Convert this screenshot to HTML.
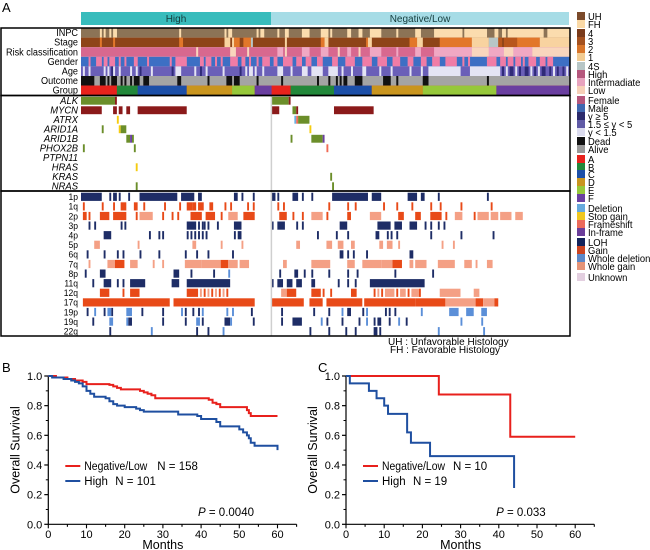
<!DOCTYPE html>
<html><head><meta charset="utf-8"><style>
html,body{margin:0;padding:0;background:#fff;}
svg{display:block;font-family:"Liberation Sans",Arial,sans-serif;}
</style></head><body>
<svg id="fig" width="650" height="550" viewBox="0 0 650 550" xmlns="http://www.w3.org/2000/svg">
<text x="2" y="12" font-size="13">A</text>
<text x="2" y="372" font-size="13">B</text>
<text x="318" y="372" font-size="13">C</text>
<rect x="81" y="12" width="190" height="13" fill="#38bcbc"/>
<text x="176" y="22" font-size="10" text-anchor="middle" fill="#143c3c">High</text>
<rect x="271" y="12" width="298" height="13" fill="#a6dce6"/>
<text x="420" y="22" font-size="10" text-anchor="middle" fill="#143c3c">Negative/Low</text>
<g id="heat"></g>
<g id="labels"></g>
<g id="legend"></g>
<text x="388" y="345" font-size="10">UH : Unfavorable Histology</text>
<text x="390" y="353" font-size="10">FH : Favorable Histology</text>
<g id="kmB"></g>
<g id="kmC"></g>
</svg>
<script>
// ---------- oncoprint data (patient index ranges: 0-100 High, 101-258 Negative/Low) ----------
const nPatients = 259;
const clinicalRows = ["INPC","Stage","Risk classification","Gender","Age","Outcome","Group"];
const clinicalDefault = ["U","4","H","M","M","A","A"];
const clinicalEvents = [
 "10F 12F 15F 17-18F 52F 76F 78-79F 93F 95-96F 104F 108-109F 117-120F 127-130F 132F 141-142F 147-148F 153-158F 167F 177-179F 187-201F 203-214F 219-220F 223-224F 226-244F 247-258F",
 "10B 17B 52-53B 81-83B 86-89B 76-78O 80O 90S 108O 127-128B 129-130O 151B 152-153O 174-177B 178-180O 190-206B 207-215O 216-220S 221-222C 224-230C 231-242B 243-258O",
 "61L 79-81L 88L 104-106I 108L 117-120I 127-130I 136L 141-142I 147L 153-158I 167I 177-179I 187-206I 207-215L 216-223I 224-228L 229-238I 239-258L",
 "4F 8-10F 12-13F 15-17F 20F 23F 28-29F 35F 47F 50-55F 63-64F 66-68F 71F 74F 79-82F 85-86F 89F 93F 96-99F 102-103F 107-111F 114-116F 119-121F 125-127F 133-135F 140-144F 149-153F 157-161F 165-168F 173-175F 180-182F 186-189F 193-198F 202F 205F 215-219F 222-224F 226-228F 230-232F 234F 237-240F 243-245F 247-249F",
 "1Y 4Y 12Y 14Y 16O 17Y 20Y 26Y 29Y 31O 37Y 48O 50-52Y 60Y 63O 66Y 75Y 84O 87Y 89-90Y 92Y 96Y 104-106Y 111Y 117-119Y 122-127Y 131-135Y 138Y 143Y 149-150Y 158Y 164Y 174Y 180Y 184-200Y 206-221Y 223O 225Y 227-228O 230Y 232O 235-236O 238Y 240O 242Y 244-245O 248O 250Y 252O 255O 257Y",
 "0-6D 10-12D 14D 16-18D 21D 23D 26D 28-30D 33-35D 51-52D 67D 77-79D 81-83D 93D 106D 125D 131D 135D 137D 139-140D 145-148D 160-163D 167D 181-183D 215D",
 "0-18A 19-29B 30-55C 56-79D 80-91E 92-100F 101-110A 111-133B 134-153C 154-180D 181-219E 220-258F"
];
const mutationRows = ["ALK","MYCN","ATRX","ARID1A","ARID1B","PHOX2B","PTPN11","HRAS","KRAS","NRAS"];
const mutationEvents = [
 "0-17g 18r 101-109g 110r",
 "0-10r 17-18r 20-21r 24-25r 30-55r 101-104r 112-113g 114r 134-154r",
 "19y 113d 114f 115-120g",
 "11g 20y 21-23g 121y",
 "24-25g 26p 27g 111g 122-127g 128p",
 "1g 28g 130f",
 "",
 "29y",
 "132g",
 "29g 133g"
];
const cnvRows = ["1p","1q","2p","3p","4p","5p","6q","7q","8p","11q","12q","17q","19p","19q","22q"];
const cnvEvents = [
 "0-10L 15L 17-18L 20L 25L 31-50L 53-59L 62-63L 81-82L 85L 91L 101-102L 104L 112-114L 117L 122L 133-151L 154-158L 173-177L 180-181L 189L 215L",
 "1G 11G 17G 21-23G 28-29G 33G 44G 52G 56-58G 59-60G 62-64G 68-69G 76G 79G 88G 91G 104G 107G 131G 141G 145G 160G 167G 175G 185G 190G 201G 217G",
 "1-2G 4G 10-14G 17-23G 29G 31-37W 43G 48G 51G 58-63G 66-70G 74G 78-82W 86-91G 105-108G 112G 117G 122-127W 130G 141-142G 153-158W 168-170G 177-179G 185-190G 193G 198-201W 208G 210-215W 217-220W 222-227W 230-233W",
 "4L 7L 21L 23L 56-60L 62L 64L 65L 67L 72L 81-84L 101L 104-107L 114L 117L 137-140L 157-163L 166-169L 174-177L 182L 185L 189L 192L",
 "12-15L 36L 41L 43L 56L 58L 60L 62L 64L 66L 81L 83-84L 125L 135L 141L 156-157L 162L 164L 167L 185L 201L 218L",
 "7-9W 30W 59-60W 74W 85W 114-115W 130-132W 136-138W 143-144W 158-159W 162-164W 168W 191W 197W",
 "3L 12L 19L 22L 31L 41L 55L 61L 67L 80L 137-138L 141L 144L 151L 174-175L",
 "4W 14-17W 18-22G 26-29W 38W 43W 55-63W 64-73W 74-77G 78-82W 84-88W 107-108W 122-131W 141-144W 149-158W 159-164W 165-169G 174-175W 177-182W 189-197W 203-206W 209W 215-217W",
 "2L 10-12L 49-51L 58L 70L 78D 105L 113-114L 118L 122L 131L 141L 146L 166L 186L",
 "6L 12-15L 19L 22L 26-33L 48-51L 56-78L 101L 104-106L 109-111L 114-116L 122-123L 136L 141L 145L 153-181L",
 "10-14G 22G 26-30G 56-61G 63W 65G 67W 69G 71W 73G 75W 77G 106-108W 109-113G 122-126G 128G 132G 143-145G 155G 157W 159G 161-165W 167G 169-171W 173G 175-178W 179G 190-200W 208-210W",
 "1-46G 49-91G 101-117G 121-127G 130-148G 150-176G 177-192G 193-208W 209-212G 213-218W 219-220G",
 "3L 12L 16L 32L 43L 55L 59L 62L 90L 7D 14-15D 24-26D 53D 64D 77D 80D 106L 123L 131L 141-142L 149L 161L 163L 166L 138D 151D 180D 195-199D 204-207D 212-214D",
 "6L 25-26L 43L 55L 64L 76-78L 91L 15-16D 24D 61-62D 79D 106L 112-116L 130L 138L 147L 155L 157-158L 163L 172L 127D 151D 168D 201D 212D",
 "15L 61L 67L 37D 75D 121L 131L 140L 145L 155-156L 158L 189D 213D"
];
// ---------- KM data ----------
const bRedTimes=[2,5,7,9,10,16,17,18,19,24,25,26,27,28,42,43,44,45,52,52.5,53];
const bRedSurv=[0.99,0.98,0.97,0.96,0.945,0.94,0.93,0.92,0.91,0.90,0.89,0.88,0.87,0.85,0.84,0.82,0.81,0.79,0.77,0.75,0.73];
const bBlueTimes=[1,4,6,7,8,9,10,11,12,15,16,17,18,20,23,24,25,34,39,40,44,45,50,51,52,52.5,53,54,60];
const bBlueSurv=[0.99,0.98,0.97,0.96,0.95,0.93,0.90,0.88,0.86,0.85,0.83,0.81,0.80,0.79,0.78,0.77,0.76,0.74,0.73,0.71,0.69,0.66,0.64,0.62,0.60,0.58,0.55,0.53,0.50];
const cRedTimes=[24.3,43];
const cRedSurv=[0.875,0.59];
const cBlueTimes=[1,6,8,10,11,16,17,22,44];
const cBlueSurv=[0.95,0.90,0.85,0.80,0.745,0.62,0.55,0.46,0.245];
const yTickLabels=["0.0","0.2","0.4","0.6","0.8","1.0"];
const xTickLabels=["0","10","20","30","40","50","60"];

const NS="http://www.w3.org/2000/svg";
function mk(tag,attrs,parent){const e=document.createElementNS(NS,tag);for(const k in attrs)e.setAttribute(k,attrs[k]);if(parent)parent.appendChild(e);return e;}
function parse(s){const out=[];const re=/(\d+)(?:-(\d+))?([A-Za-z])/g;let m;while((m=re.exec(s))){const a=+m[1];out.push([a,m[2]?+m[2]:a,m[3]]);}return out;}
const x0=81, x1=570, cw=(x1-x0)/nPatients;
function px(i){return x0+i*cw;}

const clinColors=[
 {U:"#8c7356",F:"#fbdcae"},
 {"4":"#8e4418",B:"#e2772a",C:"#b8561c",O:"#f8d3a0",S:"#b7c6c6"},
 {H:"#d8688f",I:"#f0a8c3",L:"#f9d6bd"},
 {M:"#3d6fc4",F:"#f07ca6"},
 {M:"#6a5fb8",Y:"#e4e4f4",O:"#2f2a78"},
 {A:"#a4a4a4",D:"#111111"},
 {A:"#e8221c",B:"#22883a",C:"#1c4fa8",D:"#c9951e",E:"#96c83a",F:"#6a3fa0"}
];
const mutColors={g:"#6b8e2a",r:"#8b1a1a",y:"#f5cc10",d:"#6ab0e0",f:"#f06a55",p:"#6a3fa0"};
const cnvColors={L:"#1e2d66",G:"#e84a18",D:"#5b8fd8",W:"#f4a085"};

const heat=document.getElementById('heat');
const labels=document.getElementById('labels');
const clinTop=28, clinH=9.6;
clinicalRows.forEach((name,r)=>{
  const y=clinTop+r*clinH;
  const bg=mk('rect',{x:x0,y:y,width:x1-x0,height:clinH,fill:clinColors[r][clinicalDefault[r]]},heat);
  
  
  parse(clinicalEvents[r]).forEach(([s,e,c])=>{
    const rc=mk('rect',{x:px(s),y:y,width:(e-s+1)*cw+0.1,height:clinH,fill:clinColors[r][c]},heat);
    
    
  });
  const t=mk('text',{x:0,y:0,'font-size':10.5,'text-anchor':'end',transform:`translate(78,${y+clinH-1.5}) scale(0.87,1)`},labels);
  t.textContent=name;
  
  
});
const mutTop=96, mutH=9.5;
mutationRows.forEach((name,r)=>{
  const y=mutTop+r*mutH;
  parse(mutationEvents[r]).forEach(([s,e,c])=>{
    const rc=mk('rect',{x:px(s),y:y+0.8,width:(e-s+1)*cw,height:mutH-1.6,fill:mutColors[c]},heat);
    
    
  });
  const t=mk('text',{x:0,y:0,'font-size':10.5,'font-style':'italic','text-anchor':'end',transform:`translate(78,${y+mutH-1.5}) scale(0.9,1)`},labels);
  t.textContent=name;
  
  
});
const cnvTop=192, cnvH=(336-192)/cnvRows.length;
cnvRows.forEach((name,r)=>{
  const y=cnvTop+r*cnvH;
  parse(cnvEvents[r]).forEach(([s,e,c])=>{
    const rc=mk('rect',{x:px(s),y:y+0.7,width:(e-s+1)*cw,height:cnvH-1.4,fill:cnvColors[c]},heat);
    
    
  });
  const t=mk('text',{x:0,y:0,'font-size':9.5,'text-anchor':'end',transform:`translate(78,${y+cnvH-1.5}) scale(0.9,1)`},labels);
  t.textContent=name;
  
  
});
const dv=mk('line',{x1:px(101)-0.3,x2:px(101)-0.3,y1:96,y2:336,stroke:"#cfcfcf","stroke-width":1.5},heat);


[[28,95.5],[95.5,191],[191,336]].forEach(([a,b])=>{
  const r=mk('rect',{x:1,y:a,width:569,height:b-a,fill:"none",stroke:"#000","stroke-width":1.5},heat);
  
  
});
const legendItems=[
 ["UH","#7b4a2a",16],["FH","#fad9a6",24],
 ["4","#7a3b1b",33],["3","#a4511f",41],["2","#d8752a",49],["1","#f2cc93",57],["4S","#b7c6c6",66],
 ["High","#b5567c",74],["Intermadiate","#e8a3be",82],["Low","#f7d0b8",90],
 ["Female","#b5567c",100],["Male","#3f68b0",108],
 ["y \u2265 5","#2b2a6b",116],["1.5 \u2264 y < 5","#5f5aa6",124],["y < 1.5","#dcdcef",132],
 ["Dead","#111111",141],["Alive","#999999",149],
 ["A","#e8221c",159],["B","#22883a",167],["C","#1c4fa8",174],["D","#c9951e",182],["E","#96c83a",190],["F","#6a3fa0",198],
 ["Deletion","#66aadd",208],["Stop gain","#f0c820",216],["Frameshift","#ec6a5a",224],["In-frame","#6a3d9a",232],
 ["LOH","#14235a",242],["Gain","#cc4420",250],["Whole deletion","#5b88c8",258],["Whole gain","#e59478",266],
 ["Unknown","#e3cfe0",277]
];
const lg=document.getElementById('legend');
legendItems.forEach(([lab,col,y])=>{
  const r=mk('rect',{x:577,y:y-4,width:8,height:8,fill:col},lg);
  
  
  const t=mk('text',{x:0,y:0,'font-size':10.5,transform:`translate(588,${y+4}) scale(0.9,1)`},lg);
  t.textContent=lab;
  
  
});
function km(gid,ox,redT,redS,redEnd,blueT,blueS,blueEnd,nRed,nBlue,pval,legX){
  const g=document.getElementById(gid);
  const xs=m=>ox+m*3.82, ys=v=>524.3-v*148.3;
  const ax=mk('path',{d:`M${ox},376 V${ys(0)} H${xs(65)}`,fill:"none",stroke:"#000","stroke-width":1.2},g);
  
  
  yTickLabels.forEach((lab,i)=>{
    const v=+lab;
    mk('line',{x1:ox-4,x2:ox,y1:ys(v),y2:ys(v),stroke:"#000","stroke-width":1.2},g);
    if(i<5) mk('line',{x1:ox-2.5,x2:ox,y1:ys(v+0.1),y2:ys(v+0.1),stroke:"#000","stroke-width":1},g);
    const t=mk('text',{x:ox-6,y:ys(v)+4,'font-size':11,'text-anchor':'end'},g);
    t.textContent=lab;
    
    
  });
  for(let m=0;m<=65;m+=5){
    mk('line',{x1:xs(m),x2:xs(m),y1:ys(0),y2:ys(0)+(m%10===0?4:2.5),stroke:"#000","stroke-width":1.1},g);
  }
  xTickLabels.forEach(lab=>{
    const t=mk('text',{x:xs(+lab),y:538,'font-size':11,'text-anchor':'middle'},g);
    t.textContent=lab;
    
    
  });
  const xt=mk('text',{x:xs(30),y:549,'font-size':12.5,'text-anchor':'middle'},g);
  xt.textContent="Months";
  
  
  const yt=mk('text',{x:0,y:0,'font-size':12.5,'text-anchor':'middle',transform:`translate(${ox-29},450) rotate(-90)`},g);
  yt.textContent="Overall Survival";
  
  
  function step(T,S,end){let d=`M${xs(0)},${ys(1)}`;T.forEach((t,i)=>{d+=` H${xs(t)} V${ys(S[i])}`;});if(end>T[T.length-1])d+=` H${xs(end)}`;return d;}
  const pr=mk('path',{d:step(redT,redS,redEnd),fill:"none",stroke:"#e8201c","stroke-width":2},g);
  
  
  const pb=mk('path',{d:step(blueT,blueS,blueEnd),fill:"none",stroke:"#1f4fa0","stroke-width":2},g);
  
  
  mk('line',{x1:ox+17,x2:ox+32,y1:466,y2:466,stroke:"#e8201c","stroke-width":2},g);
  mk('line',{x1:ox+17,x2:ox+32,y1:481,y2:481,stroke:"#1f4fa0","stroke-width":2},g);
  const l1=mk('text',{x:ox+36,y:470,'font-size':11.5,textLength:63,lengthAdjust:'spacingAndGlyphs'},g);
  l1.textContent="Negative/Low";
  
  
  const n1=mk('text',{x:ox+legX,y:470,'font-size':11.5},g);
  n1.textContent="N = "+nRed;
  
  
  const l2=mk('text',{x:ox+36,y:485,'font-size':11.5},g);
  l2.textContent="High";
  
  
  const n2=mk('text',{x:ox+67,y:485,'font-size':11.5},g);
  n2.textContent="N = "+nBlue;
  
  
  const p=mk('text',{x:xs(pval[0]),y:516,'font-size':11.5},g);
  p.innerHTML='<tspan font-style="italic">P</tspan> = '+pval[1];
  
  
}
km('kmB',48.3,bRedTimes,bRedSurv,60,bBlueTimes,bBlueSurv,60,158,101,[39.2,"0.0040"],109);
km('kmC',346,cRedTimes,cRedSurv,60,cBlueTimes,cBlueSurv,44,10,19,[39.3,"0.033"],107);
</script>
</body></html>
